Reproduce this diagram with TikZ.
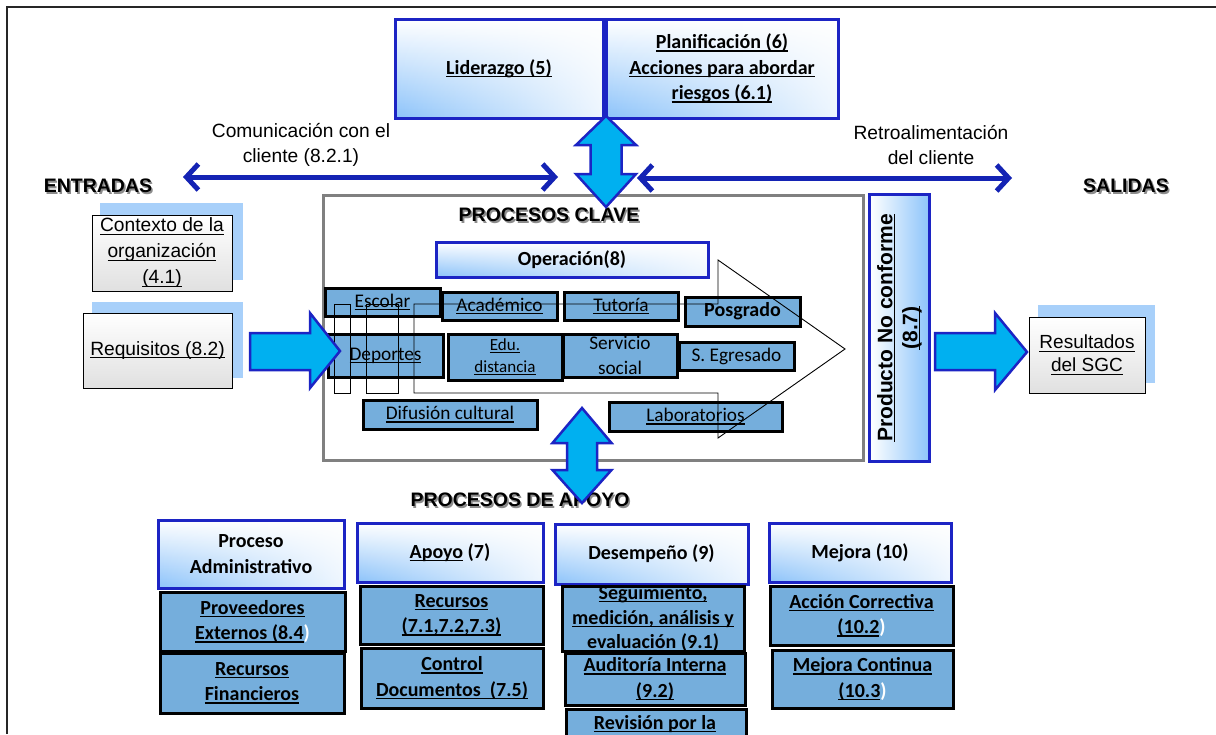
\documentclass[tikz,border=0pt]{standalone}
\usepackage{fontspec}
\usetikzlibrary{arrows.meta,fadings}
\newfontfamily\fcal{Carlito}
\newfontfamily\fari{Liberation Sans}
\newcommand\uline[1]{\setbox0\hbox{#1}\rlap{\rule[-2.8pt]{\wd0}{1.2pt}}\box0\relax}
\definecolor{hdrborder}{RGB}{28,36,196}
\definecolor{hdrgrad}{RGB}{140,195,250}
\definecolor{lineblue}{RGB}{20,35,180}
\definecolor{cyanfill}{RGB}{0,176,240}
\definecolor{procfill}{RGB}{117,174,220}
\definecolor{shadowblue}{RGB}{168,208,250}
\definecolor{framegray}{RGB}{128,128,128}
\tikzset{
  hdr/.style={draw=hdrborder, line width=3pt, top color=white, bottom color=hdrgrad,
    path picture={\fill[white, fill opacity=0.85, path fading=west] (path picture bounding box.south west) rectangle (path picture bounding box.north east);}},
  proc/.style={draw=black, line width=3pt, fill=procfill},
  inbox/.style={draw=black, line width=1pt, top color=white, bottom color=black!12},
  shadowbox/.style={fill=shadowblue, draw=none},
  blockarrow/.style={draw=hdrborder, line width=2.5pt, fill=cyanfill, line join=miter},
  larrow/.style={draw=lineblue, line width=5pt, {Straight Barb[length=12pt,width=26pt]}-{Straight Barb[length=12pt,width=26pt]}},
  bt/.style={font=\fcal\bfseries\fontsize{20}{25.5}\selectfont, align=center, inner sep=0},
  rt/.style={font=\fcal\fontsize{19.3}{25}\selectfont, align=center, inner sep=0},
  arit/.style={font=\fari\fontsize{19.2}{25.5}\selectfont, align=center, inner sep=0},
  title/.style={font=\fari\bfseries\fontsize{19.5}{22}\selectfont, inner sep=0},
}
\newcommand\bx[8]{%
  \node[#2, anchor=north west, inner sep=0, outer sep=0, minimum width={#6-#4}, minimum height={#7-#5}] (#1) at (#4,#5) {};
  \node[#3] (#1t) at (#1.center) {#8};}
\newcommand\ttl[3]{%
  \node[title, text=black!45] at ([xshift=1.6pt,yshift=-1.6pt]#2) {#3};
  \node[title] (#1) at (#2) {#3};}
\begin{document}
\begin{tikzpicture}[x=1pt, y=-1pt]
\useasboundingbox (0,0) rectangle (1216,734);
\clip (0,0) rectangle (1216,734);
\fill[white] (0,0) rectangle (1216,734);
% outer frame
\draw[black!85, line width=2pt] (7,734) -- (7,7) -- (1216,7);

% top boxes
\bx{lid}{hdr}{bt}{395}{19}{603}{118}{\uline{Liderazgo (5)}}
\bx{plan}{hdr}{bt}{606}{19}{838}{118}{\uline{Planificación (6)}\\\uline{Acciones para abordar}\\\uline{riesgos (6.1)}}

% customer arrows
\coordinate (cl1) at (183,177);
\coordinate (cl2) at (558,177);
\coordinate (cr1) at (637,178);
\coordinate (cr2) at (1012,178);
\draw[larrow] (cl1) -- (cl2);
\draw[larrow] (cr1) -- (cr2);
\node[arit] (comlbl) at (301,145) {Comunicación con el\\cliente (8.2.1)};
\node[arit] (retlbl) at (931,145) {Retroalimentación\\del cliente};

\ttl{entr}{98,186}{ENTRADAS}
\ttl{sal}{1126,186}{SALIDAS}

% inputs
\fill[shadowbox] (100,203) rectangle (243,280);
\bx{ctx}{inbox}{arit, font=\fari\fontsize{19.2}{26}\selectfont}{92}{215}{232}{291}{\uline{Contexto de la}\\\uline{organización}\\\uline{(4.1)}}
\fill[shadowbox] (92,302) rectangle (243,378);
\bx{req}{inbox}{arit}{83}{313}{232}{388}{\uline{Requisitos (8.2)}}

% key processes
\draw[framegray, line width=3pt] (323,195) rectangle (863,460);
\ttl{pclave}{549,215}{PROCESOS CLAVE}
\bx{oper}{hdr}{bt}{436}{242}{708}{277}{Operación(8)}

\bx{esc}{proc}{rt}{325}{288}{440}{316}{\uline{Escolar}}
\bx{acad}{proc}{rt}{442}{292}{557}{320}{\uline{Académico}}
\bx{tut}{proc}{rt}{564}{292}{678}{320}{\uline{Tutoría}}
\bx{pos}{proc}{bt}{685}{297}{800}{326}{Posgrado}
\bx{dep}{proc}{rt}{328}{334}{443}{377}{\uline{Deportes}}
\bx{edu}{proc}{rt, font=\fcal\fontsize{17}{22}\selectfont}{448}{334}{562}{380}{\uline{Edu.}\\\uline{distancia}}
\bx{ss}{proc}{rt}{563}{334}{677}{377}{Servicio\\social}
\bx{egr}{proc}{rt}{679}{342}{794}{370}{S. Egresado}
\bx{dif}{proc}{rt}{363}{400}{537}{429}{\uline{Difusión cultural}}
\bx{lab}{proc}{rt}{609}{402}{782}{431}{\uline{Laboratorios}}

% striped outline arrow
\draw[black, line width=0.9pt] (334,304) rectangle (350,393);
\draw[black, line width=0.9pt] (366,304) rectangle (398,393);
\draw[black, line width=0.9pt] (414,304) -- (718,304) -- (718,260) -- (845,349) -- (718,438) -- (718,393) -- (414,393) -- cycle;

% block arrows
\draw[blockarrow] (250,333) -- (310,333) -- (310,313) -- (340,351) -- (310,388) -- (310,370) -- (250,370) -- cycle;
\draw[blockarrow] (606,116) -- (636,145) -- (621.5,145) -- (621.5,174) -- (636,174) -- (606,207) -- (576,174) -- (590.5,174) -- (590.5,145) -- (576,145) -- cycle;

% nonconforming product
\node[draw=hdrborder, line width=3pt, left color=white, right color=hdrgrad, anchor=north west, inner sep=0, minimum width=60pt, minimum height=267pt] (prod) at (868,193) {};
\node[font=\fari\bfseries\fontsize{21}{25}\selectfont, align=center, rotate=90, inner sep=0] (prodt) at (prod.center) {\uline{Producto No conforme}\\\uline{(8.7)}};

\draw[blockarrow] (935,333) -- (995,333) -- (995,313) -- (1027,352) -- (995,390) -- (995,370) -- (935,370) -- cycle;
\fill[shadowbox] (1038,305) rectangle (1155,383);
\bx{res}{inbox}{arit, font=\fari\fontsize{19}{23}\selectfont}{1029}{317}{1145}{393}{\uline{Resultados}\\\uline{del SGC}}

% support processes
\ttl{papoyo}{520,500}{PROCESOS DE APOYO}
\draw[blockarrow] (582,408) -- (611.5,443) -- (597,443) -- (597,470) -- (611.5,470) -- (582,503) -- (552.5,470) -- (567,470) -- (567,443) -- (552.5,443) -- cycle;

\bx{padm}{hdr}{bt}{158}{520}{344}{588}{Proceso\\Administrativo}
\bx{prov}{proc}{bt}{160}{592}{345}{651}{\uline{Proveedores}\\\uline{Externos (8.4}\textcolor{white}{)}}
\bx{rfin}{proc}{bt}{160}{653}{344}{713}{\uline{Recursos}\\\uline{Financieros}}

\bx{apo}{hdr}{bt}{357}{523}{543}{582}{\uline{Apoyo} (7)}
\bx{rec}{proc}{bt}{360}{586}{543}{644}{\uline{Recursos}\\\uline{(7.1,7.2,7.3)}}
\bx{cdoc}{proc}{bt}{361}{648}{543}{708}{\uline{Control}\\\uline{Documentos\ \ (7.5)}}

\bx{des}{hdr}{bt}{555}{524}{748}{584}{Desempeño (9)}
\bx{seg}{proc}{bt, font=\fcal\bfseries\fontsize{20}{24.5}\selectfont}{562}{586}{744}{651}{\uline{Seguimiento,}\\\uline{medición, análisis y}\\\uline{evaluación (9.1)}}
\bx{aud}{proc}{bt}{565}{653}{745}{705}{\uline{Auditoría Interna}\\\uline{(9.2)}}
\node[proc, anchor=north west, inner sep=0, minimum width=180pt, minimum height=50pt] (rev) at (565,708) {};
\node[bt] (revt) at (655,724) {\uline{Revisión por la}};

\bx{mej}{hdr}{bt}{769}{523}{951}{582}{Mejora (10)}
\bx{acc}{proc}{bt}{770}{586}{953}{645}{\uline{Acción Correctiva}\\\uline{(10.2}\textcolor{white}{)}}
\bx{mc}{proc}{bt}{772}{650}{953}{708}{\uline{Mejora Continua}\\\uline{(10.3}\textcolor{white}{)}}
\end{tikzpicture}
\end{document}
